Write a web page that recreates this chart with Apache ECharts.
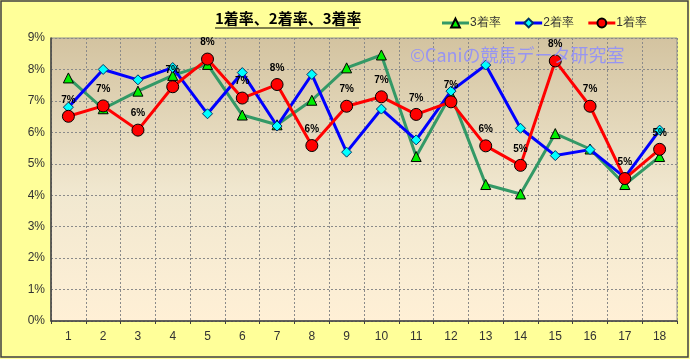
<!DOCTYPE html>
<html><head><meta charset="utf-8">
<script src="https://cdn.jsdelivr.net/npm/echarts@6/dist/echarts.min.js"></script>
<style>html,body{margin:0;padding:0;background:#FFFF99;}#c{width:690px;height:359px;}</style>
</head><body><div id="c"></div>
<script>
const categories = ['1','2','3','4','5','6','7','8','9','10','11','12','13','14','15','16','17','18'];
const rate1 = [6.51,6.84,6.07,7.45,8.33,7.09,7.52,5.58,6.83,7.13,6.57,6.97,5.57,4.95,8.27,6.83,4.53,5.46];
const rate2 = [6.80,8.00,7.67,8.06,6.59,7.90,6.20,7.84,5.37,6.74,5.76,7.31,8.14,6.13,5.26,5.45,4.57,6.07];
const rate3 = [7.73,6.75,7.31,7.81,8.16,6.55,6.24,7.02,8.05,8.46,5.23,7.20,4.34,4.04,5.96,5.47,4.34,5.23];
const seriesNames = ['3着率','2着率','1着率'];
const titleText = '1着率、2着率、3着率';
const watermark = '©Caniの競馬データ研究室';

const chart = echarts.init(document.getElementById('c'));
const fontNarrow = "'Liberation Sans Narrow','Arial Narrow','Liberation Sans',sans-serif";
chart.setOption({
  backgroundColor: '#FFFF99',
  animation: false,
  grid: {left: 51, right: 13, top: 38, bottom: 38, show: true,
    borderColor: '#909090', borderWidth: 1,
    backgroundColor: new echarts.graphic.LinearGradient(0,0,0,1,[{offset:0,color:'#D3C3A0'},{offset:0.55,color:'#F1E8D0'},{offset:1,color:'#FFF0D6'}])},
  legend: {right: 38, top: 12, itemWidth: 27, itemHeight: 11, itemGap: 13,
    lineStyle: {width: 3},
    textStyle: {fontSize: 12, color: '#333', padding: [0,0,0,-4]},
    data: seriesNames},
  graphic: [
    {type:'text', left: 215, top: 11, style:{text: titleText, font: 'bold 15px "Noto Sans CJK JP", sans-serif', fill:'#000'}, z: 10},
    {type:'line', shape:{x1:215,y1:28,x2:359,y2:28}, style:{stroke:'#000', lineWidth:1.2}, z:10},
    {type:'text', left: 410, top: 46, z: 100, style:{text: watermark, font: '18px "Noto Sans CJK JP", sans-serif', fill:'rgba(140,140,255,0.85)'}},
    {type:'rect', shape:{x:1,y:1,width:687,height:356}, style:{fill:'none', stroke:'#404040', lineWidth:1.5}, silent:true, z:100}
  ],
  xAxis: {type:'category', data: categories, boundaryGap: true,
    axisLine:{lineStyle:{color:'#404040', width:1.5}},
    axisTick:{show:true, length:3, lineStyle:{color:'#404040'}},
    axisLabel:{fontSize:12, color:'#333', margin:10, fontFamily: fontNarrow},
    splitLine:{show:true, lineStyle:{color:'#8a8a8a', type:[2,2], width:1}}},
  yAxis: {type:'value', min:0, max:9, interval:1,
    axisLine:{show:true, lineStyle:{color:'#404040', width:1.5}},
    axisTick:{show:false},
    axisLabel:{formatter:'{value}%', fontSize:12, color:'#333', margin:6, fontFamily: fontNarrow},
    splitLine:{show:true, lineStyle:{color:'#8a8a8a', type:[2,2], width:1}}},
  series: [
    {name: seriesNames[0], type:'line', data: rate3, symbol:'triangle', symbolSize:10,
      lineStyle:{color:'#339966', width:3}, itemStyle:{color:'#00EE00', borderColor:'#000', borderWidth:1},
      color:'#339966', z:2},
    {name: seriesNames[1], type:'line', data: rate2, symbol:'diamond', symbolSize:10,
      lineStyle:{color:'#0000FF', width:3}, itemStyle:{color:'#00FFFF', borderColor:'#003366', borderWidth:1},
      color:'#0000FF', z:3},
    {name: seriesNames[2], type:'line', data: rate1, symbol:'circle', symbolSize:12,
      lineStyle:{color:'#FF0000', width:3}, itemStyle:{color:'#FF0000', borderColor:'#000', borderWidth:1},
      color:'#FF0000', z:4,
      label:{show:true, position:'top', distance:5, fontSize:10, fontWeight:'bold', color:'#000', fontFamily: fontNarrow,
        formatter: p => Math.round(p.value) + '%'}}
  ]
});
</script></body></html>
